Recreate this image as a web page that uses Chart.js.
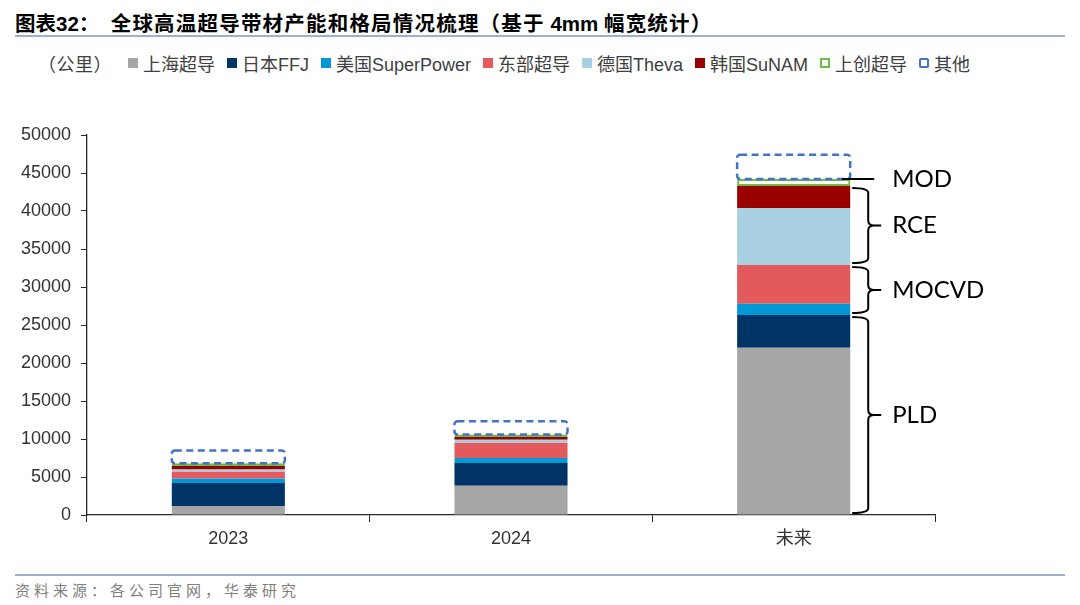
<!DOCTYPE html>
<html><head><meta charset="utf-8">
<script src="https://cdn.jsdelivr.net/npm/chart.js@4/dist/chart.umd.min.js"></script>
<style>
html,body{margin:0;padding:0;background:#fff;width:1080px;height:605px;overflow:hidden;}
body{position:relative;font-family:"Liberation Sans","Noto Sans CJK SC",sans-serif;}
#title{position:absolute;left:15px;top:7px;font-size:20.5px;font-weight:bold;color:#000;white-space:nowrap;font-family:"Liberation Sans","Noto Sans CJK SC",sans-serif;}
#title .cn{letter-spacing:1.2px;}
#tline{position:absolute;left:15px;top:35px;width:1050px;height:2px;background:#9DB1CC;}
#bline{position:absolute;left:15px;top:574px;width:1050px;height:2px;background:#9DB1CC;}
#source{position:absolute;left:15px;top:579px;font-size:15px;letter-spacing:4px;color:#808080;white-space:nowrap;}
#legend{position:absolute;left:38px;top:50px;display:flex;align-items:center;font-size:18px;color:#404040;white-space:nowrap;}
#legend .unit{margin-right:16px;letter-spacing:0.5px;}
#legend .item{display:flex;align-items:center;margin-right:12px;}
#legend .mk{width:10px;height:10px;margin-right:5px;box-sizing:border-box;}
#wrap{position:absolute;left:0;top:100px;width:1080px;height:460px;}
</style></head>
<body>
<div id="title">图表32：&nbsp;&nbsp;<span class="cn">全球高温超导带材产能和格局情况梳理（基于</span> 4mm <span class="cn">幅宽统计）</span></div>
<div id="tline"></div>
<div id="legend"></div>
<div id="wrap"><canvas id="c"></canvas></div>
<div id="bline"></div>
<div id="source">资料来源：各公司官网，华泰研究</div>
<script>
const categories = ['2023', '2024', '未来'];
const seriesNames = ['上海超导', '日本FFJ', '美国SuperPower', '东部超导', '德国Theva', '韩国SuNAM', '上创超导', '其他'];
const shanghai    = [1200, 3850, 22000];
const ffj         = [3000, 3000, 4300];
const superpower  = [600, 650, 1500];
const dongbu      = [900, 2000, 5100];
const theva       = [300, 400, 7500];
const sunam       = [450, 350, 2900];
const shangchuang = [350, 350, 900];
const others      = [1700, 1750, 3200];
const yTicks = [0, 5000, 10000, 15000, 20000, 25000, 30000, 35000, 40000, 45000, 50000];
// technology groups for the last bar (series index ranges)
const techLabels = ['PLD', 'MOCVD', 'RCE', 'MOD'];
const techGroups = [[0, 1], [2, 3], [4, 5], [6, 6]];

const fills = ['#A6A6A6', '#003366', '#0099D6', '#E35A5C', '#A8D0E1', '#990000', '#FFFFFF', 'rgba(0,0,0,0)'];
const borders = [null, null, null, null, null, null, '#70B944', '#4472C4'];
const allSeries = [shanghai, ffj, superpower, dongbu, theva, sunam, shangchuang, others];

// legend (HTML)
const lg = document.getElementById('legend');
const u = document.createElement('span'); u.className = 'unit'; u.textContent = '（公里）'; lg.appendChild(u);
seriesNames.forEach((n, i) => {
  const it = document.createElement('span'); it.className = 'item';
  const mk = document.createElement('span'); mk.className = 'mk';
  if (borders[i]) { mk.style.border = '2.5px solid ' + borders[i]; mk.style.background = '#fff'; if (i === 7) mk.style.borderRadius = '2px'; }
  else mk.style.background = fills[i];
  const tx = document.createElement('span'); tx.textContent = n;
  it.appendChild(mk); it.appendChild(tx); lg.appendChild(it);
});

const datasets = allSeries.map((d, i) => ({
  label: seriesNames[i],
  data: d,
  backgroundColor: fills[i],
  borderColor: borders[i] || fills[i],
  borderWidth: i === 6 ? 2 : 0,
  borderSkipped: false,
  barPercentage: 0.4,
  categoryPercentage: 1.0
}));

const overlay = {
  id: 'overlay',
  afterDatasetsDraw(chart) {
    const ctx = chart.ctx;
    const ys = chart.scales.y;
    // dashed box for "其他"
    const meta = chart.getDatasetMeta(7);
    ctx.save();
    ctx.strokeStyle = '#4472C4'; ctx.lineWidth = 2.5; ctx.setLineDash([7, 4.5]);
    meta.data.forEach(el => {
      const p = el.getProps(['x', 'y', 'base', 'width'], true);
      const l = p.x - p.width / 2, t = p.y, w = p.width, h = p.base - p.y;
      ctx.beginPath();
      if (ctx.roundRect) ctx.roundRect(l, t, w, h, 3); else ctx.rect(l, t, w, h);
      ctx.stroke();
    });
    ctx.restore();

    // brackets on the last bar
    const last = categories.length - 1;
    const lastMeta = chart.getDatasetMeta(0).data[last];
    const barRight = lastMeta.x + lastMeta.width / 2;
    const cum = [0];
    allSeries.forEach((s, i) => cum.push(cum[i] + s[last]));
    ctx.save();
    ctx.strokeStyle = '#000'; ctx.fillStyle = '#000'; ctx.lineWidth = 2;
    ctx.font = '24px Lato, "Liberation Sans", sans-serif';
    ctx.textBaseline = 'middle'; ctx.textAlign = 'left';
    const x0 = barRight + 2, xs = barRight + 18, xp = barRight + 28, xl = barRight + 42;
    techGroups.forEach((g, k) => {
      if (g[0] === g[1] && k === techGroups.length - 1) {
        const yv = ys.getPixelForValue(cum[g[1] + 1]);
        ctx.beginPath(); ctx.moveTo(barRight - 8, yv); ctx.lineTo(barRight + 24, yv); ctx.stroke();
        ctx.fillText(techLabels[k], xl, yv);
        return;
      }
      const yb = ys.getPixelForValue(cum[g[0]]) - 2;
      const yt = ys.getPixelForValue(cum[g[1] + 1]) + 2;
      const ym = (yb + yt) / 2, r = 5;
      ctx.beginPath();
      ctx.moveTo(x0, yt);
      ctx.quadraticCurveTo(xs, yt, xs, yt + r);
      ctx.lineTo(xs, ym - r);
      ctx.quadraticCurveTo(xs, ym, xp - 4, ym);
      ctx.lineTo(xp + 3, ym);
      ctx.moveTo(xp - 4, ym);
      ctx.quadraticCurveTo(xs, ym, xs, ym + r);
      ctx.lineTo(xs, yb - r);
      ctx.quadraticCurveTo(xs, yb, x0, yb);
      ctx.stroke();
      ctx.fillText(techLabels[k], xl, ym);
    });
    ctx.restore();
  }
};

new Chart(document.getElementById('c'), {
  type: 'bar',
  data: { labels: categories, datasets },
  options: {
    responsive: true, maintainAspectRatio: false, animation: false,
    layout: { padding: { left: 0, right: 145, top: 35, bottom: 0 } },
    plugins: { legend: { display: false }, tooltip: { enabled: false } },
    scales: {
      x: {
        stacked: true,
        grid: { display: true, drawOnChartArea: false, drawTicks: true, tickLength: 7, color: '#262626', offset: true },
        border: { display: true, color: '#262626', width: 1.3 },
        ticks: { color: '#333', padding: 6, font: { size: 18, family: '"Liberation Sans","Noto Sans CJK SC",sans-serif' } },
        afterFit(s) { s.height = 45; }
      },
      y: {
        stacked: true, min: 0, max: 50000,
        afterBuildTicks(s) { s.ticks = yTicks.map(v => ({ value: v })); },
        grid: { display: true, drawOnChartArea: false, drawTicks: true, tickLength: 6, color: '#262626' },
        border: { display: true, color: '#262626', width: 1.3 },
        ticks: { color: '#333', padding: 10, font: { size: 18, family: '"Liberation Sans",sans-serif' }, callback: v => String(v) },
        afterFit(s) { s.width = 87; }
      }
    }
  },
  plugins: [overlay]
});
</script>
</body></html>
